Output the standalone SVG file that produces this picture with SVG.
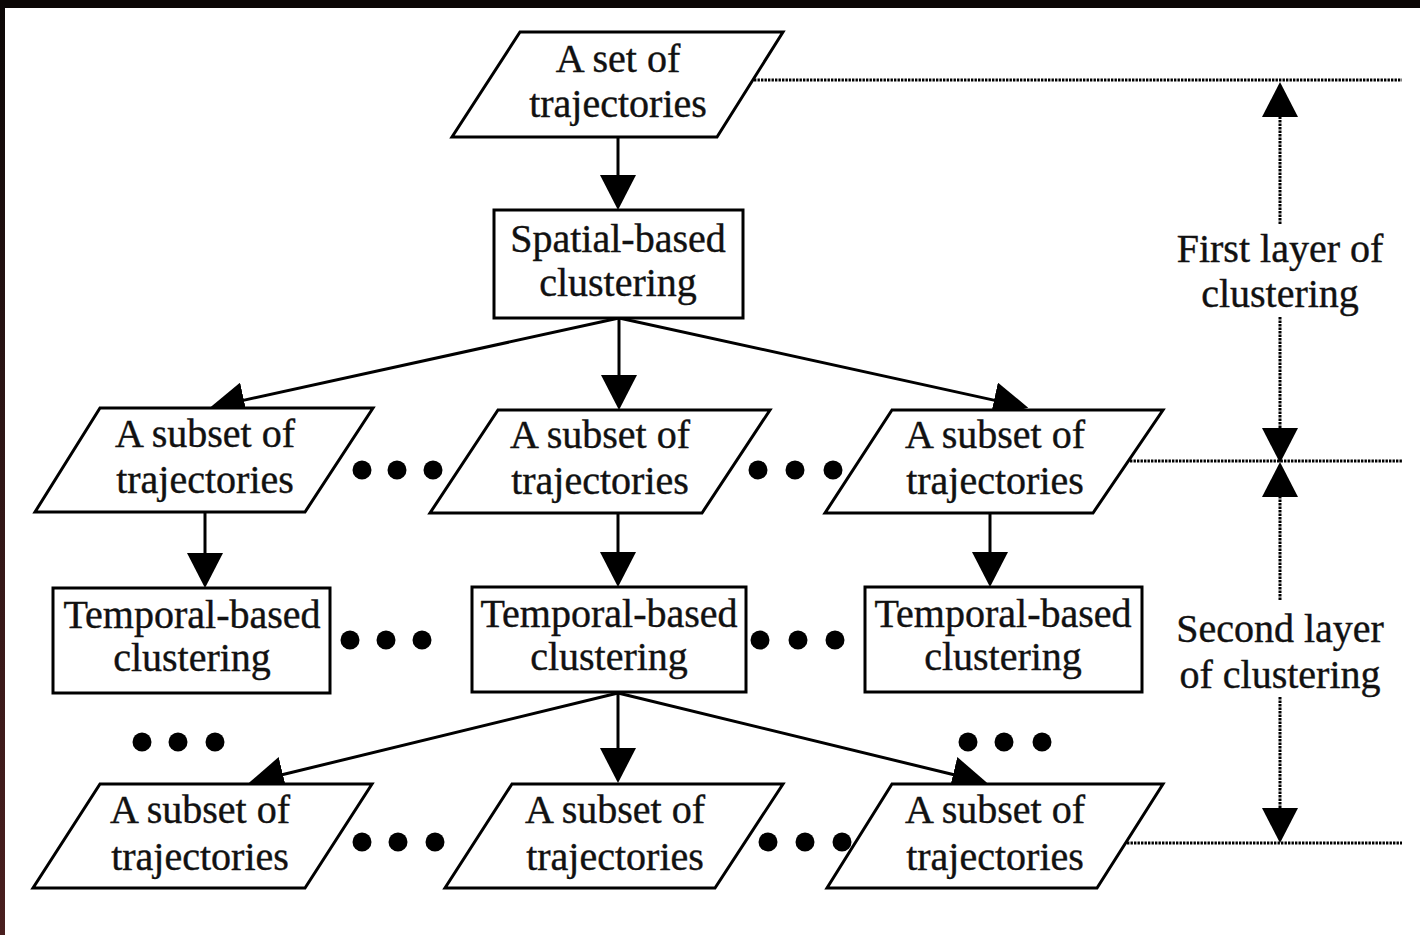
<svg xmlns="http://www.w3.org/2000/svg" width="1420" height="935" viewBox="0 0 1420 935">
  <defs>
    <linearGradient id="edgeShade" x1="0" y1="0" x2="0" y2="1">
      <stop offset="0" stop-color="#0b0706"/>
      <stop offset="0.4" stop-color="#2a1414"/>
      <stop offset="1" stop-color="#4a1f1f"/>
    </linearGradient>
    <marker id="head" markerUnits="userSpaceOnUse" markerWidth="36" markerHeight="36" viewBox="0 0 36 36" refX="2" refY="18" orient="auto">
      <path d="M0,0 L35,18 L0,36 Z" fill="#000"/>
    </marker>
    <marker id="headDot" markerUnits="userSpaceOnUse" markerWidth="38" markerHeight="38" viewBox="0 0 38 38" refX="2" refY="18" orient="auto">
      <path d="M0,0 L35,18 L0,36 Z" fill="#000"/>
    </marker>
  </defs>
  <style>
    .shape { fill: #fff; stroke: #000; stroke-width: 3; stroke-linejoin: miter; }
    .label { font-family: "Liberation Serif", "Times New Roman", serif; font-size: 40px; fill: #111; stroke: #111; stroke-width: 0.4; text-anchor: middle; }
    .link { fill: none; stroke: #000; stroke-width: 3; }
    .guide { fill: none; stroke: #000; stroke-width: 3; stroke-dasharray: 2.4 1.1; }
    .dot { fill: #000; }
  </style>

  <!-- page background and dark frame edges -->
  <rect x="0" y="0" width="1420" height="935" fill="#fff"/>
  <rect x="0" y="0" width="1420" height="8" fill="#0b0706"/>
  <rect x="0" y="0" width="5" height="935" fill="url(#edgeShade)"/>

  <!-- connectors -->
  <g id="connectors">
    <!-- set -> spatial clustering -->
    <line class="link" x1="618" y1="137" x2="618" y2="177" marker-end="url(#head)"/>
    <!-- spatial clustering -> subsets -->
    <line class="link" x1="619" y1="318" x2="242" y2="400.6" marker-end="url(#head)"/>
    <line class="link" x1="619" y1="318" x2="619" y2="377" marker-end="url(#head)"/>
    <line class="link" x1="619" y1="318" x2="996" y2="400.6" marker-end="url(#head)"/>
    <!-- subsets -> temporal clustering -->
    <line class="link" x1="205" y1="512" x2="205" y2="555" marker-end="url(#head)"/>
    <line class="link" x1="618" y1="513" x2="618" y2="554" marker-end="url(#head)"/>
    <line class="link" x1="990" y1="513" x2="990" y2="554" marker-end="url(#head)"/>
    <!-- middle temporal clustering -> subsets -->
    <line class="link" x1="618" y1="693" x2="281" y2="775" marker-end="url(#head)"/>
    <line class="link" x1="618" y1="693" x2="618" y2="750" marker-end="url(#head)"/>
    <line class="link" x1="618" y1="693" x2="955" y2="775" marker-end="url(#head)"/>
  </g>

  <!-- layer guides -->
  <g id="guides">
    <line class="guide" x1="754" y1="80" x2="1402" y2="80"/>
    <line class="guide" x1="1130" y1="461" x2="1402" y2="461"/>
    <line class="guide" x1="1127" y1="843" x2="1402" y2="843"/>
    <line class="guide" x1="1280" y1="224" x2="1280" y2="115" marker-end="url(#headDot)"/>
    <line class="guide" x1="1280" y1="317" x2="1280" y2="430" marker-end="url(#headDot)"/>
    <line class="guide" x1="1280" y1="600" x2="1280" y2="495" marker-end="url(#headDot)"/>
    <line class="guide" x1="1280" y1="697" x2="1280" y2="810" marker-end="url(#headDot)"/>
  </g>

  <g id="layer1-label">
    <text class="label" x="1280" y="262">First layer of</text>
    <text class="label" x="1280" y="307">clustering</text>
  </g>
  <g id="layer2-label">
    <text class="label" x="1280" y="642">Second layer</text>
    <text class="label" x="1280" y="688">of clustering</text>
  </g>

  <!-- nodes -->
  <g id="set">
    <polygon class="shape" points="520,32 783,32 717,137 452,137"/>
    <text class="label" x="618" y="72">A set of</text>
    <text class="label" x="618" y="117">trajectories</text>
  </g>
  <g id="spatial">
    <rect class="shape" x="494" y="210" width="249" height="108"/>
    <text class="label" x="618" y="252">Spatial-based</text>
    <text class="label" x="618" y="296">clustering</text>
  </g>

  <g id="subset-1a">
    <polygon class="shape" points="100,408 373,408 305,512 35,512"/>
    <text class="label" x="205" y="447">A subset of</text>
    <text class="label" x="205" y="493">trajectories</text>
  </g>
  <g id="subset-1b">
    <polygon class="shape" points="498,410 770,410 702,513 430,513"/>
    <text class="label" x="600" y="448">A subset of</text>
    <text class="label" x="600" y="494">trajectories</text>
  </g>
  <g id="subset-1c">
    <polygon class="shape" points="892,410 1163,410 1093,513 825,513"/>
    <text class="label" x="995" y="448">A subset of</text>
    <text class="label" x="995" y="494">trajectories</text>
  </g>

  <g id="temporal-a">
    <rect class="shape" x="53" y="588" width="277" height="105"/>
    <text class="label" x="192" y="628">Temporal-based</text>
    <text class="label" x="192" y="671">clustering</text>
  </g>
  <g id="temporal-b">
    <rect class="shape" x="472" y="587" width="274" height="105"/>
    <text class="label" x="609" y="627">Temporal-based</text>
    <text class="label" x="609" y="670">clustering</text>
  </g>
  <g id="temporal-c">
    <rect class="shape" x="865" y="587" width="277" height="105"/>
    <text class="label" x="1003" y="627">Temporal-based</text>
    <text class="label" x="1003" y="670">clustering</text>
  </g>

  <g id="subset-2a">
    <polygon class="shape" points="100,784 372,784 305,888 33,888"/>
    <text class="label" x="200" y="823">A subset of</text>
    <text class="label" x="200" y="870">trajectories</text>
  </g>
  <g id="subset-2b">
    <polygon class="shape" points="512,784 783,784 715,888 445,888"/>
    <text class="label" x="615" y="823">A subset of</text>
    <text class="label" x="615" y="870">trajectories</text>
  </g>
  <g id="subset-2c">
    <polygon class="shape" points="892,784 1163,784 1097,888 827,888"/>
    <text class="label" x="995" y="823">A subset of</text>
    <text class="label" x="995" y="870">trajectories</text>
  </g>

  <!-- ellipsis marks -->
  <g id="ellipses">
    <circle class="dot" cx="362" cy="470" r="9.5"/>
    <circle class="dot" cx="397" cy="470" r="9.5"/>
    <circle class="dot" cx="433" cy="470" r="9.5"/>
    <circle class="dot" cx="758" cy="470" r="9.5"/>
    <circle class="dot" cx="795" cy="470" r="9.5"/>
    <circle class="dot" cx="833" cy="470" r="9.5"/>

    <circle class="dot" cx="350" cy="640" r="9.5"/>
    <circle class="dot" cx="386" cy="640" r="9.5"/>
    <circle class="dot" cx="422" cy="640" r="9.5"/>
    <circle class="dot" cx="760" cy="640" r="9.5"/>
    <circle class="dot" cx="798" cy="640" r="9.5"/>
    <circle class="dot" cx="835" cy="640" r="9.5"/>

    <circle class="dot" cx="142" cy="742" r="9.5"/>
    <circle class="dot" cx="178" cy="742" r="9.5"/>
    <circle class="dot" cx="215" cy="742" r="9.5"/>
    <circle class="dot" cx="968" cy="742" r="9.5"/>
    <circle class="dot" cx="1004" cy="742" r="9.5"/>
    <circle class="dot" cx="1042" cy="742" r="9.5"/>

    <circle class="dot" cx="362" cy="842" r="9.5"/>
    <circle class="dot" cx="398" cy="842" r="9.5"/>
    <circle class="dot" cx="435" cy="842" r="9.5"/>
    <circle class="dot" cx="768" cy="842" r="9.5"/>
    <circle class="dot" cx="805" cy="842" r="9.5"/>
    <circle class="dot" cx="842" cy="842" r="9.5"/>
  </g>
</svg>
